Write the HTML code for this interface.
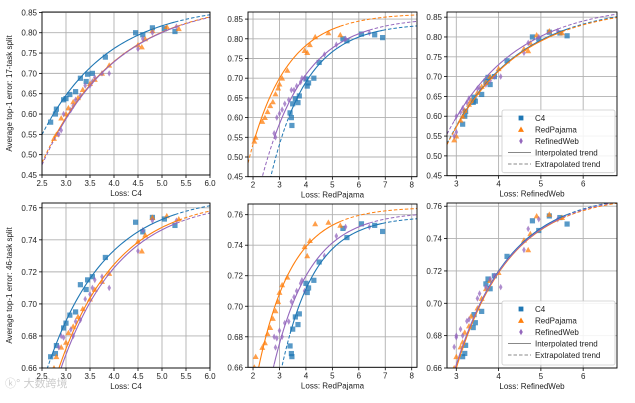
<!DOCTYPE html>
<html><head><meta charset="utf-8">
<style>
html,body{margin:0;padding:0;background:#fff;}
svg{display:block;font-family:"Liberation Sans","DejaVu Sans",sans-serif;}
</style></head>
<body>
<svg id="fig" width="635" height="403" viewBox="0 0 635 403" xmlns="http://www.w3.org/2000/svg">
<text x="5" y="387" font-size="11" fill="#ccc" font-family="'Liberation Sans','Noto Sans CJK SC',sans-serif">ⓚ° 大数跨境</text>
</svg>
<script>
// ---- data: per model family (trained on C4 / RedPajama / RefinedWeb) ----
const seriesNames = ["C4", "RedPajama", "RefinedWeb"];
const c4LossC4 = [2.68,2.78,2.8,2.95,3.0,3.08,3.2,3.3,3.42,3.45,3.55,3.82,4.45,4.6,4.8,5.05,5.27];
const c4LossRP = [3.47,3.45,3.4,3.5,3.7,3.6,3.75,4.1,4.05,4.0,4.3,4.5,5.4,5.55,6.1,6.6,6.9];
const c4LossRW = [3.15,3.2,3.22,3.4,3.45,3.42,3.6,3.7,3.8,3.75,3.9,4.2,4.8,4.95,5.2,5.45,5.62];
const c4Err17 = [0.58,0.60,0.612,0.635,0.638,0.648,0.655,0.688,0.68,0.698,0.70,0.74,0.80,0.795,0.812,0.81,0.803];
const c4Err46 = [0.667,0.669,0.674,0.685,0.688,0.693,0.695,0.712,0.709,0.715,0.717,0.729,0.751,0.745,0.754,0.753,0.749];

const rpLossC4 = [2.75,2.8,2.9,3.0,3.05,3.15,3.25,3.35,3.5,3.6,3.75,3.9,4.5,4.58,4.65,4.8,5.1,5.35];
const rpLossRP = [2.05,2.1,2.35,2.45,2.55,2.65,2.75,2.85,2.95,3.0,3.1,3.3,3.95,4.05,4.15,4.35,4.85,5.3];
const rpLossRW = [2.95,3.0,3.1,3.15,3.2,3.3,3.35,3.5,3.6,3.7,3.8,4.0,4.6,4.7,4.75,4.9,5.2,5.5];
const rpErr17 = [0.54,0.55,0.59,0.60,0.615,0.63,0.64,0.66,0.675,0.685,0.70,0.72,0.77,0.765,0.785,0.805,0.815,0.81];
const rpErr46 = [0.660,0.667,0.673,0.676,0.682,0.686,0.692,0.697,0.703,0.709,0.714,0.719,0.739,0.733,0.743,0.754,0.755,0.753];

const rwLossC4 = [2.85,2.9,2.95,3.1,3.15,3.2,3.3,3.4,3.5,3.55,3.6,3.75,3.9,4.5,4.6,4.8,5.3];
const rwLossRP = [2.85,2.8,2.9,3.0,3.1,3.2,3.35,3.45,3.55,3.65,3.8,3.85,3.95,4.7,5.15,5.5,6.4];
const rwLossRW = [2.95,3.0,3.0,3.1,3.15,3.25,3.3,3.5,3.55,3.7,3.8,3.9,4.05,4.6,4.7,4.95,5.4];
const rwErr17 = [0.55,0.56,0.60,0.61,0.62,0.635,0.645,0.67,0.67,0.68,0.69,0.70,0.70,0.76,0.785,0.80,0.815];
const rwErr46 = [0.673,0.68,0.679,0.684,0.68,0.689,0.69,0.703,0.706,0.71,0.715,0.717,0.71,0.733,0.746,0.752,0.752];

// fitted trend y = A - B*exp(-k*x), per panel [C4, RedPajama, RefinedWeb]
const fitA = [[0.87,0.88,0.878],[0.84,0.865,0.855],[0.88,0.878,0.885],[0.768,0.766,0.765],[0.759,0.765,0.762],[0.768,0.767,0.768]];
const fitB = [[1.94,2.03,2.1],[2.67,1.35,1.74],[1.96,1.96,1.85],[0.92,1.10,1.13],[1.17,0.59,0.75],[1.18,1.18,1.1]];
const fitK = [[0.72,0.65,0.66],[0.72,0.7,0.62],[0.62,0.62,0.62],[0.82,0.82,0.82],[0.8,0.78,0.72],[0.8,0.8,0.78]];

const xTicksC4 = ["2.5","3.0","3.5","4.0","4.5","5.0","5.5","6.0"];
const xTicksRP = ["2","3","4","5","6","7","8"];
const xTicksRW = ["3","4","5","6"];
const yTicks17 = ["0.45","0.50","0.55","0.60","0.65","0.70","0.75","0.80","0.85"];
const yTicks46 = ["0.66","0.68","0.70","0.72","0.74","0.76"];

const colors = ["#1f77b4","#ff7f0e","#9467bd"];
const lossSets = [[c4LossC4,rpLossC4,rwLossC4],[c4LossRP,rpLossRP,rwLossRP],[c4LossRW,rpLossRW,rwLossRW]];
const errSets = [[c4Err17,rpErr17,rwErr17],[c4Err46,rpErr46,rwErr46]];
const xNames = ["C4","RedPajama","RefinedWeb"];
const xTickSets = [xTicksC4,xTicksRP,xTicksRW];

const panels = [
 {x0:42,x1:210,y0:12,y1:175,xl:[2.5,6],yl:[0.45,0.851],col:0,row:0},
 {x0:248,x1:417,y0:12,y1:176.7,xl:[1.81,8.2],yl:[0.45,0.868],col:1,row:0},
 {x0:447,x1:617,y0:12,y1:175.7,xl:[2.78,6.8],yl:[0.45,0.863],col:2,row:0},
 {x0:42,x1:210,y0:203,y1:368,xl:[2.5,6],yl:[0.66,0.763],col:0,row:1},
 {x0:248,x1:417,y0:204,y1:367.3,xl:[1.81,8.2],yl:[0.66,0.767],col:1,row:1},
 {x0:447,x1:617,y0:203,y1:368,xl:[2.78,6.8],yl:[0.66,0.762],col:2,row:1}
];

const NS="http://www.w3.org/2000/svg";
const svg=document.getElementById('fig');
function mk(tag,attrs,parent){const e=document.createElementNS(NS,tag);for(const k in attrs)e.setAttribute(k,attrs[k]);(parent||svg).appendChild(e);return e;}

panels.forEach((p,pi)=>{
  const g=mk('g',{});
  
  
  const sx=v=>p.x0+(v-p.xl[0])/(p.xl[1]-p.xl[0])*(p.x1-p.x0);
  const sy=v=>p.y1-(v-p.yl[0])/(p.yl[1]-p.yl[0])*(p.y1-p.y0);
  const cid='clip'+pi;
  const cp=mk('clipPath',{id:cid},g);mk('rect',{x:p.x0,y:p.y0,width:p.x1-p.x0,height:p.y1-p.y0},cp);
  xTickSets[p.col].forEach(t=>{const X=sx(parseFloat(t));
    mk('line',{x1:X,x2:X,y1:p.y0,y2:p.y1,stroke:'#b0b0b0','stroke-width':0.9},g);
    mk('line',{x1:X,x2:X,y1:p.y1,y2:p.y1+3,stroke:'#000','stroke-width':0.8},g);
    const tx=mk('text',{x:X,y:p.y1+11,'font-size':8,'text-anchor':'middle',fill:'#222'},g);tx.textContent=t;
    
    
  });
  (p.row?yTicks46:yTicks17).forEach(t=>{const v=parseFloat(t);if(v>p.yl[1])return;const Y=sy(v);
    mk('line',{x1:p.x0,x2:p.x1,y1:Y,y2:Y,stroke:'#b0b0b0','stroke-width':0.9},g);
    mk('line',{x1:p.x0-3,x2:p.x0,y1:Y,y2:Y,stroke:'#000','stroke-width':0.8},g);
    const tx=mk('text',{x:p.x0-5,y:Y+3,'font-size':8,'text-anchor':'end',fill:'#222'},g);tx.textContent=t;
    
    
  });
  const cg=mk('g',{'clip-path':'url(#'+cid+')'},g);
  for(let s=0;s<3;s++){
    const xs=lossSets[p.col][s], ys=errSets[p.row][s], c=colors[s];
    for(let i=0;i<xs.length;i++){
      const X=sx(xs[i]),Y=sy(ys[i]);let m;
      if(s===0) m=mk('rect',{x:X-2.6,y:Y-2.6,width:5.2,height:5.2,fill:c,'fill-opacity':0.75},cg);
      else if(s===1) m=mk('polygon',{points:`${X},${Y-3} ${X-3},${Y+2.4} ${X+3},${Y+2.4}`,fill:c,'fill-opacity':0.75},cg);
      else m=mk('polygon',{points:`${X},${Y-3.3} ${X-1.8},${Y} ${X},${Y+3.3} ${X+1.8},${Y}`,fill:c,'fill-opacity':0.75},cg);
      
      
    }
  }
  for(let s=0;s<3;s++){
    const xs=lossSets[p.col][s];const lo=Math.min(...xs),hi=Math.max(...xs);
    const A=fitA[pi][s],B=fitB[pi][s],K=fitK[pi][s];
    const f=x=>A-B*Math.exp(-K*x);
    const seg=(a,b)=>{let d='';const n=60;for(let i=0;i<=n;i++){const x=a+(b-a)*i/n;let y=sy(f(x));y=Math.min(y,p.y1+50);d+=(i?'L':'M')+sx(x).toFixed(2)+','+y.toFixed(2);}return d;};
    const d1=mk('path',{d:seg(p.xl[0],lo),fill:'none',stroke:colors[s],'stroke-width':1,'stroke-dasharray':'3.5,2'},cg);
    
    
    const d2=mk('path',{d:seg(lo,hi),fill:'none',stroke:colors[s],'stroke-width':1.1},cg);
    
    
    const d3=mk('path',{d:seg(hi,p.xl[1]),fill:'none',stroke:colors[s],'stroke-width':1,'stroke-dasharray':'3.5,2'},cg);
    
    
  }
  mk('rect',{x:p.x0,y:p.y0,width:p.x1-p.x0,height:p.y1-p.y0,fill:'none',stroke:'#000','stroke-width':0.9},g);
  const xl=mk('text',{x:(p.x0+p.x1)/2,y:p.y1+21,'font-size':8,'text-anchor':'middle',fill:'#222'},g);
  xl.textContent='Loss: '+xNames[p.col];
  
  
  if(p.col===0){
    const cy=(p.y0+p.y1)/2;
    const yl=mk('text',{x:12,y:cy,'font-size':8,'text-anchor':'middle',fill:'#222',transform:`rotate(-90 12 ${cy})`},g);
    yl.textContent='Average top-1 error: '+(p.row?'46':'17')+'-task split';
    
    
  }
  if(p.col===2){
    const lg=mk('g',{},g);
    
    
    const top=p.row?301:110, lx=502;
    mk('rect',{x:lx,y:top,width:113,height:p.y1-top-3,fill:'#fff','fill-opacity':0.85,stroke:'#ccc','stroke-width':0.8,rx:2},lg);
    const labels=['C4','RedPajama','RefinedWeb','Interpolated trend','Extrapolated trend'];
    labels.forEach((t,i)=>{
      const Y=top+8+i*11.5, MX=521;
      let m;
      if(i===0) m=mk('rect',{x:MX-2.4,y:Y-2.4,width:4.8,height:4.8,fill:colors[0]},lg);
      else if(i===1) m=mk('polygon',{points:`${MX},${Y-3} ${MX-3},${Y+2.4} ${MX+3},${Y+2.4}`,fill:colors[1]},lg);
      else if(i===2) m=mk('polygon',{points:`${MX},${Y-3.3} ${MX-1.8},${Y} ${MX},${Y+3.3} ${MX+1.8},${Y}`,fill:colors[2]},lg);
      else m=mk('line',{x1:508,x2:531,y1:Y,y2:Y,stroke:'#888','stroke-width':1,'stroke-dasharray':i===4?'3.5,2':'none'},lg);
      
      
      const tx=mk('text',{x:535,y:Y+3,'font-size':8,fill:'#222'},lg);tx.textContent=t;
      
      
    });
  }
});
</script>
</body></html>
